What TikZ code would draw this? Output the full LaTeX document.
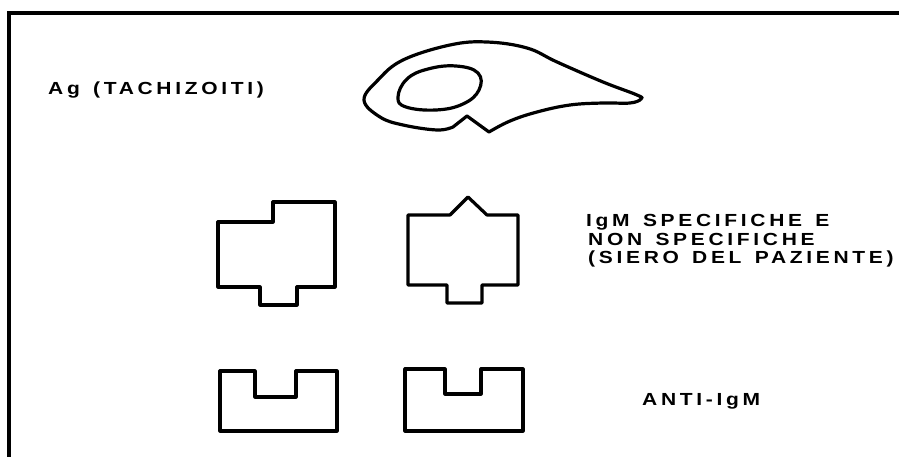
\documentclass[tikz,border=0pt]{standalone}
\usepackage{fontspec}
\setmainfont{Liberation Sans}
\newfontfamily\labelfont[LetterSpace=21,FakeStretch=1.2,WordSpace=1.4]{Liberation Sans Bold}
\begin{document}
\begin{tikzpicture}[x=1pt,y=-1pt,
  outline/.style={line width=3.2pt, line join=round, line cap=round},
  label/.style={anchor=base west, inner sep=0pt, font=\labelfont\fontsize{17.5}{18.5}\selectfont, align=left}]
\useasboundingbox (0,0) rectangle (899,457);

% open frame: top and left edges only
\draw[line width=3.2pt] (9,457) -- (9,13) -- (899,13);

% tachyzoite body with its notch
\draw[outline] plot[smooth, tension=0.65] coordinates {(453,127) (437,130) (403,125) (380,117) (364,100) (378,80) (403,60) (450,45) (487,42) (527,48) (557,62) (603,82) (637,95) (641,99) (630,103) (603,103) (570,105) (537,112) (510,121) (489,132)} -- (467,116) -- cycle;
% nucleus
\draw[outline] plot[smooth cycle, tension=0.7] coordinates {(398,97) (407,79) (428,69) (456,66) (478,73) (479,90) (463,104) (436,110) (406,107)};

% IgM molecules
\draw[outline] (218,222) -- (273,222) -- (273,202) -- (335,202) -- (335,287) -- (297,287) -- (297,305) -- (260,305) -- (260,287) -- (218,287) -- cycle;
\draw[outline] (408,215) -- (450,215) -- (468,197) -- (487,215) -- (518,215) -- (518,285) -- (482,285) -- (482,303) -- (447,303) -- (447,285) -- (408,285) -- cycle;

% anti-IgM molecules
\draw[outline] (220,371) -- (255,371) -- (255,397) -- (296,397) -- (296,371) -- (337,371) -- (337,431) -- (220,431) -- cycle;
\draw[outline] (405,369) -- (445,369) -- (445,394) -- (481,394) -- (481,369) -- (523,369) -- (523,431) -- (405,431) -- cycle;

% labels
\node[label] (ag) at (48,95) {Ag (TACHIZOITI)};
\node[label] (igm1) at (586,226) {IgM SPECIFICHE E};
\node[label] (igm2) at (588,245) {NON SPECIFICHE};
\node[label] (igm3) at (588,263) {(SIERO DEL PAZIENTE)};
\node[label] (anti) at (642,405) {ANTI-IgM};
\end{tikzpicture}
\end{document}
